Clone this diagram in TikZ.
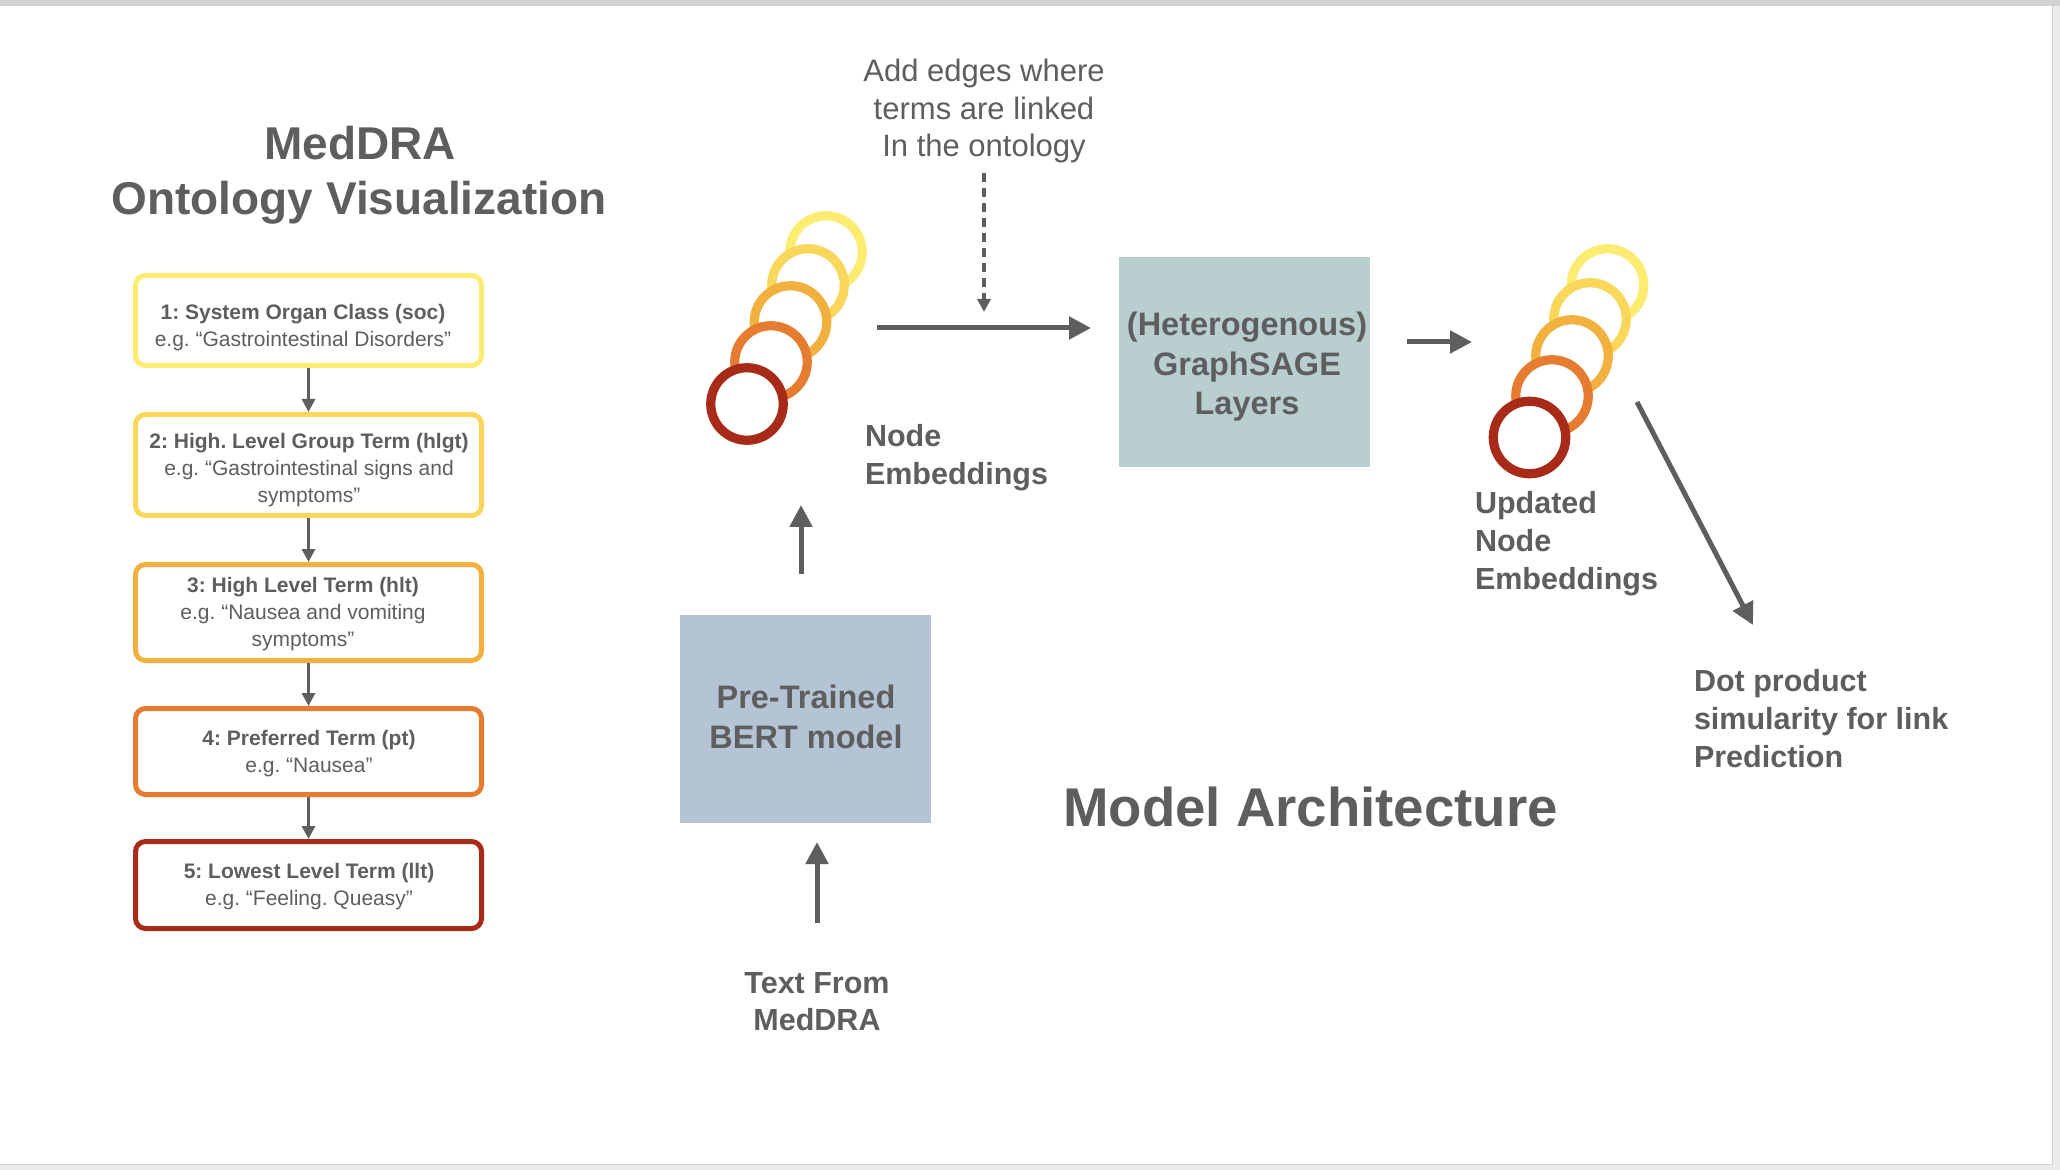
\documentclass[tikz,border=0pt]{standalone}
\usepackage{fontspec}
\setmainfont{Liberation Sans}
\usetikzlibrary{arrows.meta,calc}
\frenchspacing
\definecolor{txt}{HTML}{5E5E5E}
\definecolor{bggray}{HTML}{EDEAEB}
\definecolor{edgegray}{HTML}{D3D0D1}
\definecolor{cyel}{HTML}{FDEC72}
\definecolor{cgold}{HTML}{F9D75A}
\definecolor{clor}{HTML}{F2B13F}
\definecolor{cor}{HTML}{E67C30}
\definecolor{cred}{HTML}{A82A19}
\definecolor{sagefill}{HTML}{B9CFCF}
\definecolor{bertfill}{HTML}{B4C4D5}
\tikzset{
  txtc/.style={text=txt, inner sep=0pt, outer sep=0pt},
  bigtitle/.style={txtc, font=\fontsize{23}{27.5}\selectfont\bfseries, anchor=base},
  lbl/.style={txtc, font=\fontsize{15.25}{19}\selectfont\bfseries, align=left, anchor=base west},
  boxlbl/.style={txtc, font=\fontsize{16.25}{19.75}\selectfont\bfseries, align=center},
  termbox/.style={draw=#1, line width=2.5pt, rounded corners=5pt, fill=white,
    minimum width=173pt, inner sep=0pt},
  termtext/.style={txtc, font=\fontsize{10.5}{13.5}\selectfont, align=center},
  emb/.style={circle, draw=#1, line width=4.6pt, fill=white, minimum size=36.25pt, inner sep=0pt},
  arr/.style={draw=txt, line width=2.5pt, -{Triangle[length=11pt,width=11pt]}},
  sarr/.style={draw=txt, line width=1.5pt, -{Triangle[length=6.5pt,width=6.5pt]}},
  dasharr/.style={draw=txt, line width=1.75pt, dash pattern=on 4.5pt off 3pt,
    -{Triangle[length=6.5pt,width=6.5pt]}},
  fillbox/.style={fill=#1, draw=none, inner sep=0pt}
}
\begin{document}
\begin{tikzpicture}[x=0.5pt,y=-0.5pt]
\useasboundingbox (0,0) rectangle (2060,1170);
% slide background
\fill[bggray] (0,0) rectangle (2060,1170);
\fill[edgegray] (0,0) rectangle (2060,6);
\fill[white] (0,6) rectangle (2052,1164);
\draw[edgegray, line width=0.8pt] (2052.5,6) -- (2052.5,1164.5) -- (0,1164.5);

% ---------- left: ontology ----------
\node[bigtitle] (t1) at (360,160) {MedDRA};
\node[bigtitle] (t2) at (359,215) {Ontology Visualization};

\node[termbox=cyel,  minimum height=45pt]   (b1) at (308.5,320.5) {};
\node[termbox=cgold, minimum height=50.5pt] (b2) at (308.5,465) {};
\node[termbox=clor,  minimum height=48pt]   (b3) at (308.5,612.5) {};
\node[termbox=cor,   minimum height=43pt]   (b4) at (308.5,751.5) {};
\node[termbox=cred,  minimum height=43.5pt] (b5) at (308.5,885) {};

\node[termtext] (b1t) at (303,328) {{\bfseries 1: System Organ Class (soc)}\\e.g. “Gastrointestinal Disorders”};
\node[termtext] (b2t) at (309,470) {{\bfseries 2: High. Level Group Term (hlgt)}\\e.g. “Gastrointestinal signs and\\symptoms”};
\node[termtext] (b3t) at (303,614) {{\bfseries 3: High Level Term (hlt)}\\e.g. “Nausea and vomiting\\symptoms”};
\node[termtext] (b4t) at (309,754) {{\bfseries 4: Preferred Term (pt)}\\e.g. “Nausea”};
\node[termtext] (b5t) at (309,887) {{\bfseries 5: Lowest Level Term (llt)}\\e.g. “Feeling. Queasy”};

\draw[sarr] (b1) -- (b2);
\draw[sarr] (b2) -- (b3);
\draw[sarr] (b3) -- (b4);
\draw[sarr] (b4) -- (b5);

% ---------- middle ----------
\node[txtc, font=\fontsize{15.5}{18.75}\selectfont, align=center, anchor=base] (edges) at (984,157)
  {Add edges where\\terms are linked\\In the ontology};

\node[emb=cyel]  (c1) at (826,252) {};
\node[emb=cgold] (c2) at (808,285) {};
\node[emb=clor]  (c3) at (790.5,322) {};
\node[emb=cor]   (c4) at (771,362) {};
\node[emb=cred]  (c5) at (747,404) {};

\node[lbl] (embl) at (865,485) {Node\\Embeddings};

\node[fillbox=sagefill, minimum width=125.5pt, minimum height=105pt] (sage) at (1244.5,362) {};
\node[boxlbl, anchor=base] (saget) at (1247,415) {(Heterogenous)\\GraphSAGE\\Layers};

\node[fillbox=bertfill, minimum width=125.5pt, minimum height=104pt] (bert) at (805.5,719) {};
\node[boxlbl, anchor=base] (bertt) at (806,748) {Pre-Trained\\BERT model};

\node[txtc, font=\fontsize{15.25}{18.5}\selectfont\bfseries, align=center, anchor=base] (textm) at (817,1030) {Text From\\MedDRA};

\node[txtc, font=\fontsize{27.3}{30}\selectfont\bfseries, anchor=base] (arch) at (1310.5,826) {Model Architecture};

% ---------- right ----------
\node[emb=cyel]  (u1) at (1607.5,285) {};
\node[emb=cgold] (u2) at (1590,319) {};
\node[emb=clor]  (u3) at (1572,356) {};
\node[emb=cor]   (u4) at (1552,396) {};
\node[emb=cred]  (u5) at (1529.5,437.5) {};

\node[lbl] (updl) at (1475,589) {Updated\\Node\\Embeddings};
\node[lbl] (dotl) at (1694,767) {Dot product\\simularity for link\\Prediction};

% ---------- connectors ----------
\coordinate (embout) at (877,328);
\coordinate (sagein) at (1091,328);
\draw[arr] (embout) -- (sagein);

\coordinate (edgetip) at (984,312);
\draw[dasharr, shorten <=5pt] (edges.south) -- (edgetip);

\coordinate (sageout) at (1407,342);
\coordinate (updin) at (1472,342);
\draw[arr] (sageout) -- (updin);

\coordinate (updout) at (1637,402);
\coordinate (dotin) at (1753,625);
\draw[arr] (updout) -- (dotin);

\coordinate (bertout) at (801,574);
\coordinate (embin) at (801,505);
\draw[arr] (bertout) -- (embin);

\coordinate (textout) at (817,923);
\coordinate (bertin) at (817,842);
\draw[arr] (textout) -- (bertin);
\end{tikzpicture}
\end{document}
